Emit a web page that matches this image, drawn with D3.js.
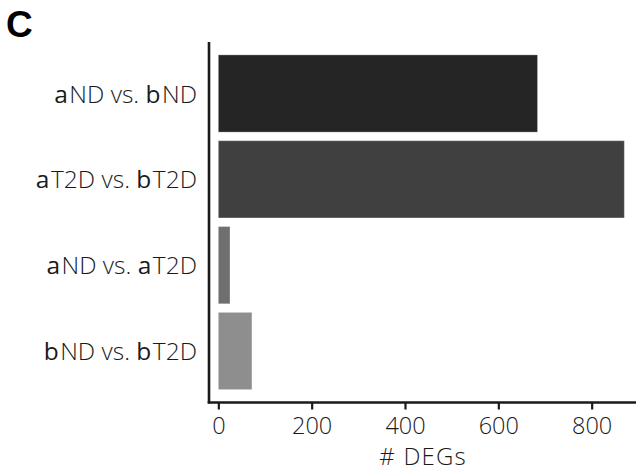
<!DOCTYPE html>
<html>
<head>
<meta charset="utf-8">
<script src="https://cdn.jsdelivr.net/npm/d3@7"></script>
<style>
  html, body { margin: 0; padding: 0; background: #fff; }
  svg { display: block; }
  text { font-family: "Open Sans", Roboto, Arial, sans-serif; }
</style>
</head>
<body>
<svg id="chart" width="636" height="473"></svg>
<script>
// Data
const categories = ["aND vs. bND", "aT2D vs. bT2D", "aND vs. aT2D", "bND vs. bT2D"];
// rich label parts: [text, bold?]
const labelParts = [
  [["a", true], ["ND vs. ", false], ["b", true], ["ND", false]],
  [["a", true], ["T2D vs. ", false], ["b", true], ["T2D", false]],
  [["a", true], ["ND vs. ", false], ["a", true], ["T2D", false]],
  [["b", true], ["ND vs. ", false], ["b", true], ["T2D", false]]
];
const values = [684, 870, 25, 72];
const barColors = ["#252525", "#404040", "#6f6f6f", "#8e8e8e"];
const xTicks = [0, 200, 400, 600, 800];
const xTitle = "# DEGs";
const panelLabel = "C";

const svg = d3.select("#chart");

const plotLeft = 209, plotRight = 636, plotTop = 42, plotBottom = 402.5;

const x = d3.scaleLinear().domain([-20, 895]).range([plotLeft, plotRight]);
const y = d3.scaleBand().domain(categories).range([plotTop, plotBottom])
  .paddingInner(0.1).paddingOuter(0.15);

// Bars
svg.append("g").selectAll("rect")
  .data(values)
  .join("rect")
  .attr("x", x(0))
  .attr("y", (d, i) => y(categories[i]))
  .attr("width", d => x(d) - x(0))
  .attr("height", y.bandwidth())
  .attr("fill", (d, i) => barColors[i])
  .attr("stroke", "rgba(255,255,255,0.3)")
  .attr("stroke-width", 1);

// Y axis line
svg.append("line")
  .attr("x1", plotLeft).attr("x2", plotLeft)
  .attr("y1", plotTop).attr("y2", plotBottom + 1)
  .attr("stroke", "#1a1a1a").attr("stroke-width", 2.6);

// Y labels
const yl = svg.append("g").selectAll("text")
  .data(categories)
  .join("text")
  .attr("x", plotLeft - 12)
  .attr("y", d => y(d) + y.bandwidth() / 2 + 9)
  .attr("text-anchor", "end")
  .style("font-size", "24.5px")
  .attr("fill", "#1a1a1a");
yl.each(function(d, i) {
  const t = d3.select(this);
  let prevBold = false;
  labelParts[i].forEach(p => {
    const s = t.append("tspan").text(p[0]).style("font-weight", p[1] ? 500 : 300);
    if (prevBold) s.attr("dx", 1.5);
    prevBold = p[1];
  });
});

// X axis
const xAxis = d3.axisBottom(x).tickValues(xTicks).tickSize(7).tickPadding(6).tickSizeOuter(0);
const gx = svg.append("g").attr("transform", `translate(0,${plotBottom})`).call(xAxis);
gx.select(".domain").attr("stroke", "#1a1a1a").attr("stroke-width", 2.6)
  .attr("d", `M${plotLeft - 1.3},0H${plotRight}`);
gx.selectAll(".tick line").attr("stroke", "#1a1a1a").attr("stroke-width", 2.2);
gx.selectAll(".tick text")
  .style("font-size", "23.5px").style("font-weight", 300)
  .style("font-family", "'Open Sans', Arial, sans-serif")
  .attr("fill", "#1a1a1a")
  .attr("dy", null).attr("y", 31.8);

// X title
const tSpacing = 1.2;
svg.append("text")
  .attr("x", (plotLeft + plotRight) / 2 + tSpacing / 2)
  .attr("y", 465)
  .attr("text-anchor", "middle")
  .style("font-size", "24px")
  .style("font-weight", 300)
  .style("letter-spacing", tSpacing + "px")
  .attr("fill", "#1a1a1a")
  .text(xTitle);

// Panel label
svg.append("text")
  .attr("x", 6)
  .attr("y", 36.5)
  .style("font-family", "'Liberation Sans', Arial, sans-serif")
  .style("font-size", "37px")
  .style("font-weight", 700)
  .attr("fill", "#000")
  .text(panelLabel);
</script>
</body>
</html>
